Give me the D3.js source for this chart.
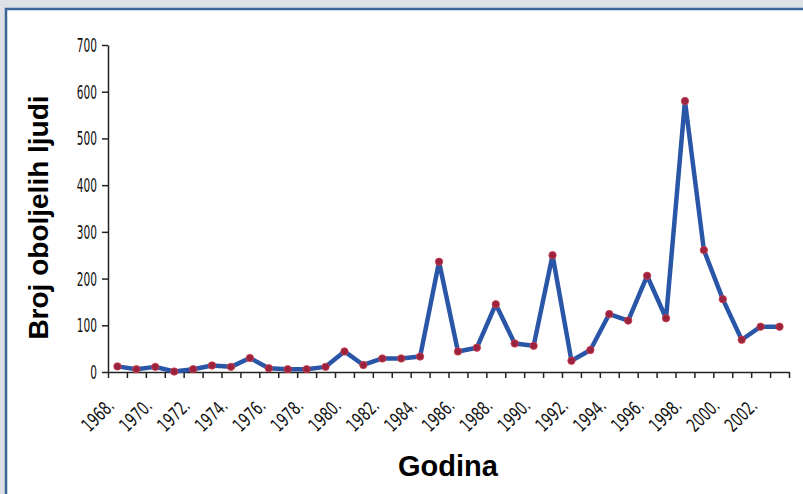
<!DOCTYPE html>
<html>
<head>
<meta charset="utf-8">
<script src="https://cdn.jsdelivr.net/npm/d3@7"></script>
<style>
  html, body { margin: 0; padding: 0; background: #dde1e6; }
  svg { display: block; }
</style>
</head>
<body>
<svg id="chart" width="803" height="494"></svg>
<script>
const years = [1968, 1969, 1970, 1971, 1972, 1973, 1974, 1975, 1976, 1977, 1978, 1979,
  1980, 1981, 1982, 1983, 1984, 1985, 1986, 1987, 1988, 1989, 1990, 1991,
  1992, 1993, 1994, 1995, 1996, 1997, 1998, 1999, 2000, 2001, 2002, 2003];
const cases = [12, 6, 11, 1, 6, 14, 11, 30, 8, 6, 6, 11,
  44, 15, 29, 29, 33, 236, 44, 52, 145, 61, 56, 250,
  24, 47, 124, 110, 206, 115, 580, 261, 156, 69, 97, 97];
const yTicks = [0, 100, 200, 300, 400, 500, 600, 700];
const labelYears = [1968, 1970, 1972, 1974, 1976, 1978, 1980, 1982, 1984,
  1986, 1988, 1990, 1992, 1994, 1996, 1998, 2000, 2002];

const svg = d3.select("#chart");
const W = 803, H = 494;
const plotLeft = 108, plotRight = 789, plotTop = 45, plotBottom = 372;

// panel
svg.append("rect")
  .attr("x", 6).attr("y", 9)
  .attr("width", W).attr("height", H)
  .attr("fill", "#fff")
  .attr("stroke", "#3a6796")
  .attr("stroke-width", 2.5);

const x = d3.scaleBand().domain(years).range([plotLeft, plotRight]).padding(0);
const xb = d3.scaleLinear().domain([0, years.length]).range([plotLeft, plotRight]);
const y = d3.scaleLinear().domain([0, 700]).range([plotBottom, plotTop]);

const tickFont = "'Liberation Sans Narrow', 'DejaVu Sans Condensed', sans-serif";

// y axis
const gy = svg.append("g")
  .attr("transform", `translate(${plotLeft},0)`)
  .call(d3.axisLeft(y).tickValues(yTicks).tickSize(6).tickSizeOuter(0).tickFormat(""));
gy.selectAll("line, path").attr("stroke", "#222").attr("stroke-width", 1.5);

svg.append("g").selectAll("text")
  .data(yTicks)
  .join("text")
  .attr("transform", d => `translate(97,${y(d) + 7}) scale(0.62,1)`)
  .attr("text-anchor", "end")
  .attr("font-family", tickFont)
  .attr("font-size", 19)
  .attr("fill", "#111")
  .text(d => d);

// x axis (ticks between categories)
const gx = svg.append("g")
  .attr("transform", `translate(0,${plotBottom})`)
  .call(d3.axisBottom(xb).tickValues(d3.range(years.length + 1)).tickSize(6).tickSizeOuter(0).tickFormat(""));
gx.selectAll("line, path").attr("stroke", "#222").attr("stroke-width", 1.5);

svg.append("g").selectAll("text")
  .data(labelYears)
  .join("text")
  .attr("transform", d => `translate(${x(d) + x.bandwidth() / 2 - 2},${plotBottom + 35}) rotate(-45) scale(0.75,1)`)
  .attr("text-anchor", "end")
  .attr("font-family", tickFont)
  .attr("font-size", 19)
  .attr("fill", "#111")
  .text(d => d + ".");

// line + markers
const line = d3.line()
  .x((d, i) => x(years[i]) + x.bandwidth() / 2)
  .y(d => y(d));

svg.append("path")
  .datum(cases)
  .attr("d", line)
  .attr("fill", "none")
  .attr("stroke", "#2a56a8")
  .attr("stroke-width", 4.5)
  .attr("stroke-linejoin", "round");

svg.append("g").selectAll("circle")
  .data(cases)
  .join("circle")
  .attr("cx", (d, i) => x(years[i]) + x.bandwidth() / 2)
  .attr("cy", d => y(d))
  .attr("r", 3.7)
  .attr("fill", "#9a2340")
  .attr("stroke", "#d0404a")
  .attr("stroke-width", 0.8);

// axis titles
svg.append("text")
  .attr("transform", `translate(48,${(plotTop + plotBottom) / 2 + 9}) rotate(-90)`)
  .attr("text-anchor", "middle")
  .attr("font-family", "'Liberation Sans', Arial, sans-serif")
  .attr("font-weight", "bold")
  .attr("font-size", 28)
  .attr("fill", "#000")
  .text("Broj oboljelih ljudi");

svg.append("text")
  .attr("x", 448).attr("y", 476)
  .attr("text-anchor", "middle")
  .attr("font-family", "'Liberation Sans', Arial, sans-serif")
  .attr("font-weight", "bold")
  .attr("font-size", 29)
  .attr("fill", "#000")
  .text("Godina");
</script>
</body>
</html>
